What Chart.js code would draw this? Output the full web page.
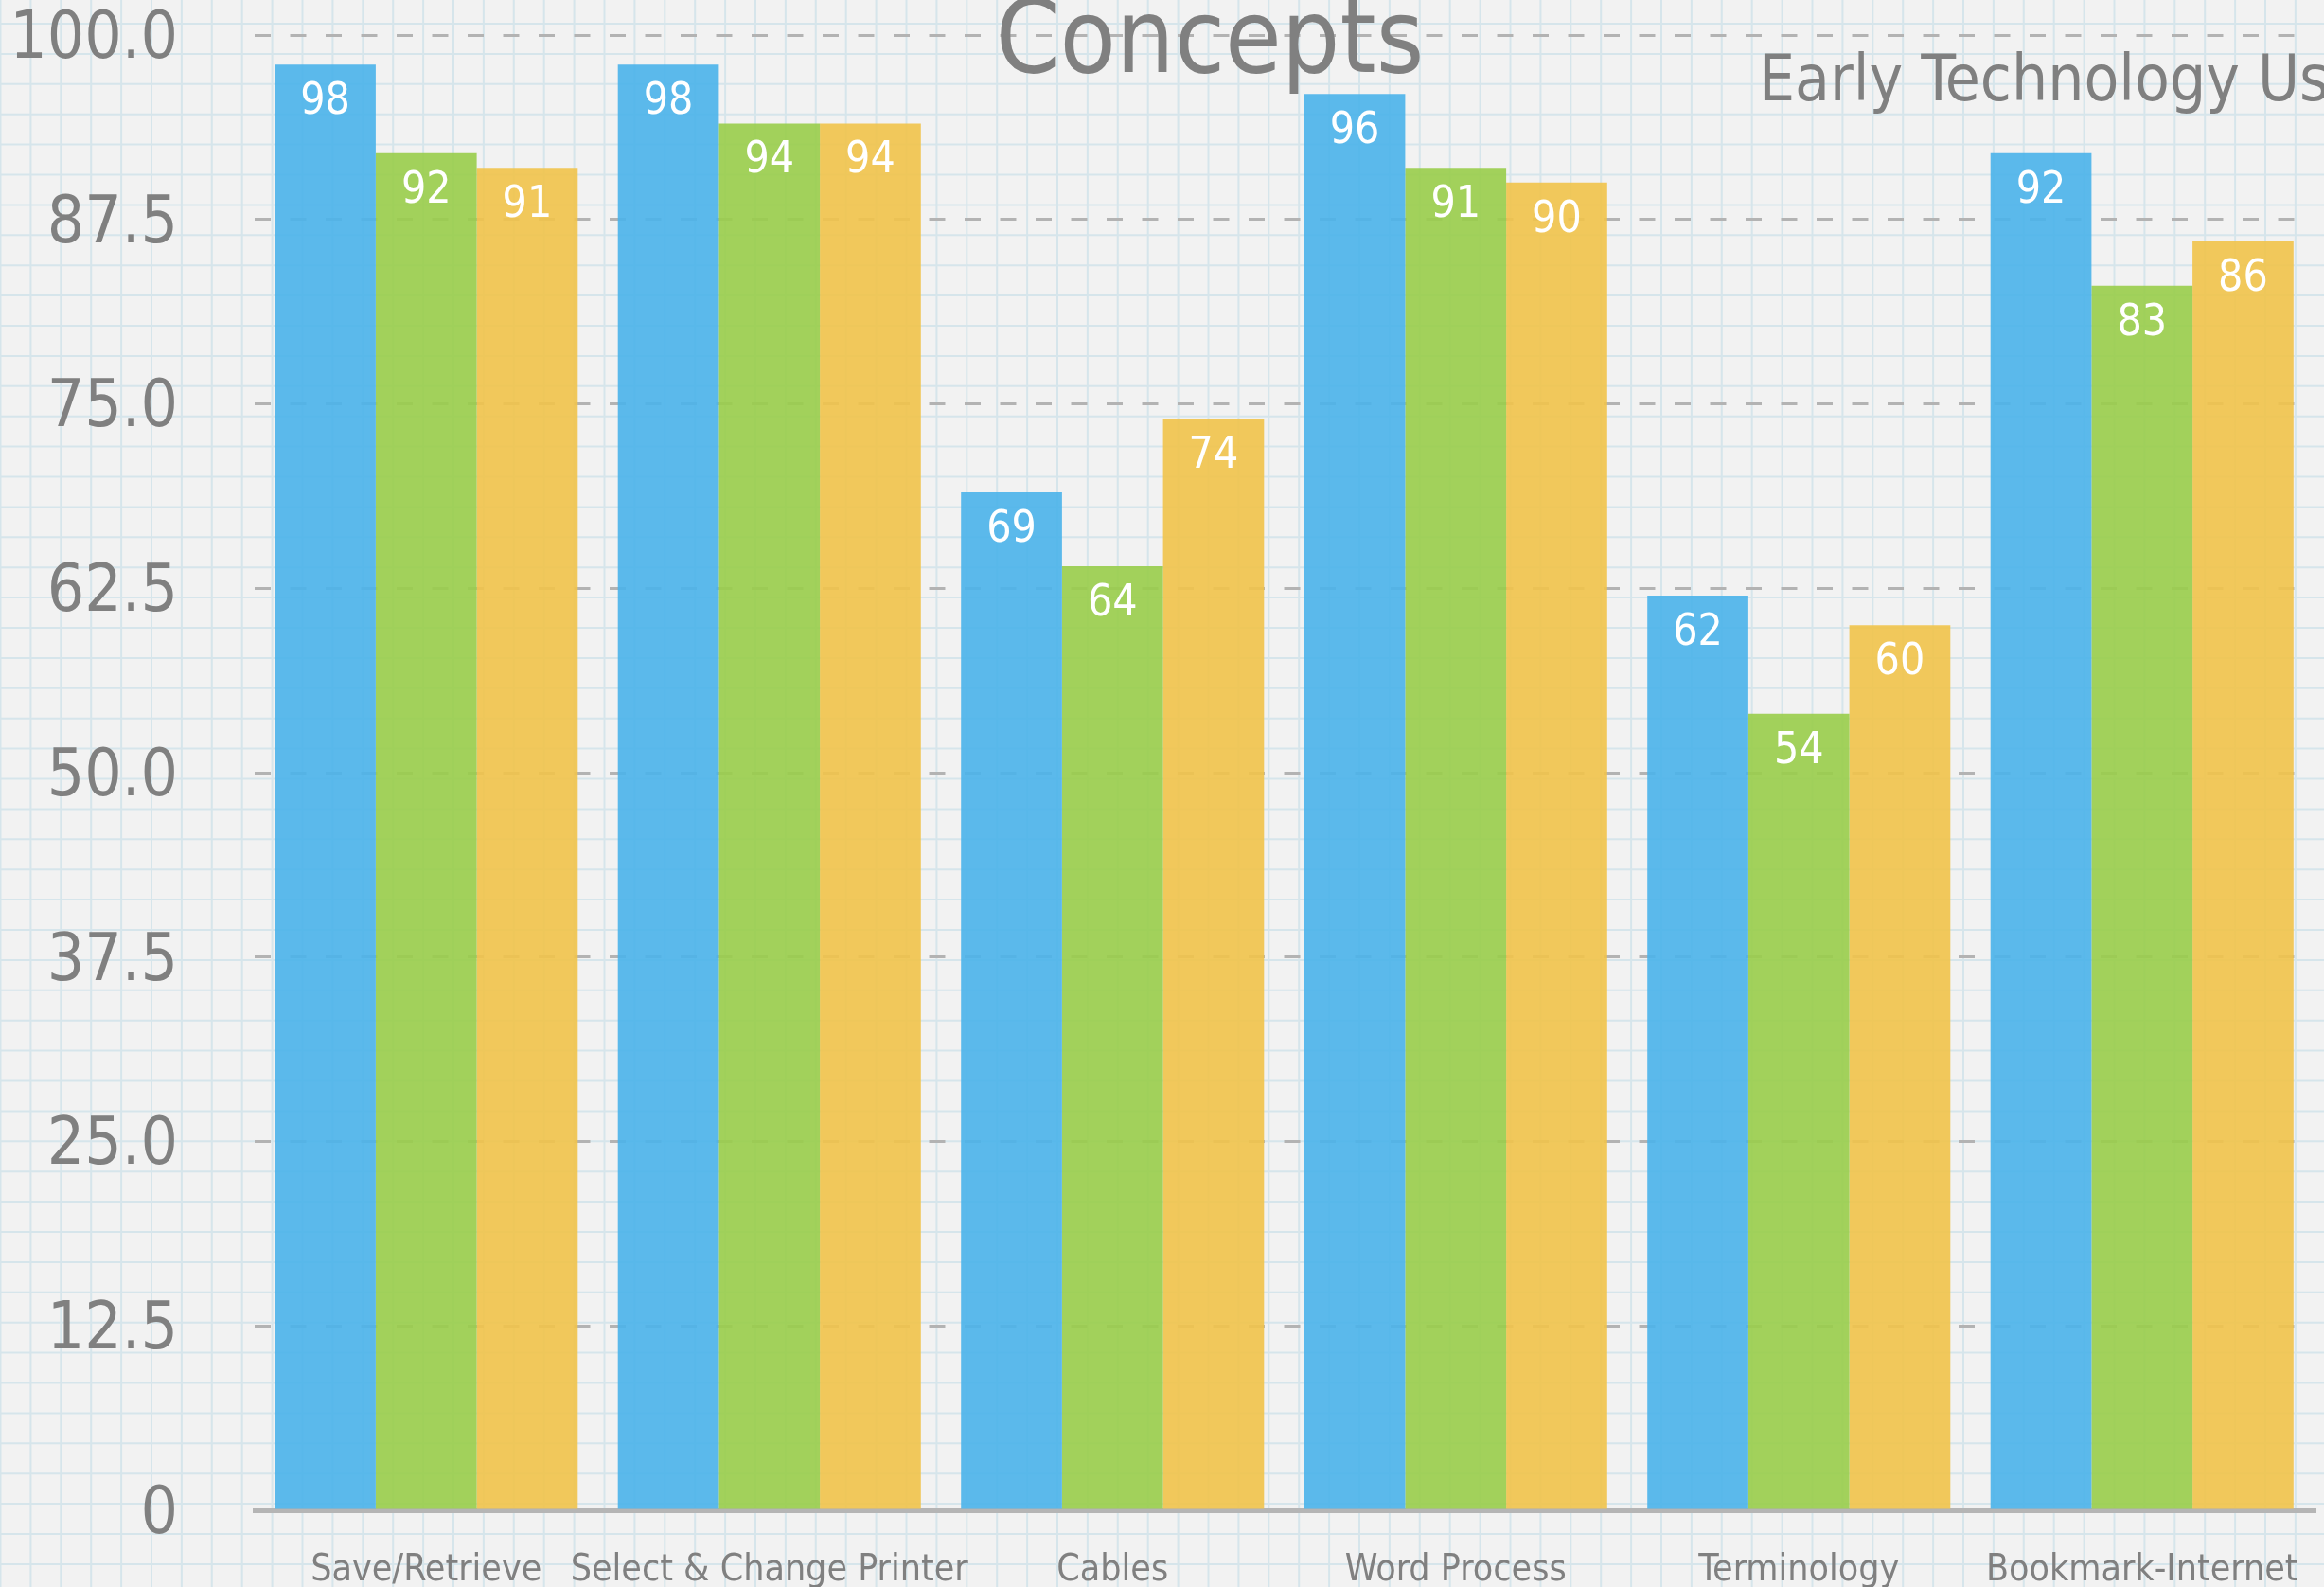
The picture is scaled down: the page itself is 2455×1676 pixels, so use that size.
<!DOCTYPE html>
<html lang="en">
  <head>
    <meta charset="UTF-8" />
    <title>Concepts</title>
    <script src="https://cdn.jsdelivr.net/npm/chart.js"></script>
    <style>
      html,
      body {
        margin: 0;
        padding: 0;
        background: #f2f2f2;
        overflow: hidden;
      }
      .chart-box {
        width: 2455px;
        height: 1676px;
        position: relative;
      }
    </style>
  </head>
  <body>
    <div class="chart-box">
      <canvas id="conceptsChart"></canvas>
    </div>

    <script>
      const categories = [
        "Save/Retrieve",
        "Select & Change Printer",
        "Cables",
        "Word Process",
        "Terminology",
        "Bookmark-Internet",
      ];
      const seriesBlue = [98, 98, 69, 96, 62, 92];
      const seriesGreen = [92, 94, 64, 91, 54, 83];
      const seriesYellow = [91, 94, 74, 90, 60, 86];
      const yTicks = [0, 12.5, 25, 37.5, 50, 62.5, 75, 87.5, 100];

      const FONT = '"DejaVu Sans Condensed", "DejaVu Sans", sans-serif';
      const GREY = "#808080";

      // graph paper behind everything
      const paperPlugin = {
        id: "paper",
        beforeDraw(chart) {
          const { ctx, width, height } = chart;
          ctx.save();
          ctx.fillStyle = "#f2f2f2";
          ctx.fillRect(0, 0, width, height);
          ctx.strokeStyle = "rgba(160, 205, 222, 0.34)";
          ctx.lineWidth = 2;
          const step = 31.9;
          ctx.beginPath();
          for (let x = 0.5; x < width; x += step) {
            ctx.moveTo(x, 0);
            ctx.lineTo(x, height);
          }
          for (let y = 25; y < height; y += step) {
            ctx.moveTo(0, y);
            ctx.lineTo(width, y);
          }
          ctx.stroke();
          ctx.restore();
        },
      };

      // value labels inside the top of each bar
      const valueLabels = {
        id: "valueLabels",
        afterDatasetsDraw(chart) {
          const { ctx } = chart;
          ctx.save();
          ctx.fillStyle = "#ffffff";
          ctx.font = `46px ${FONT}`;
          ctx.textAlign = "center";
          ctx.textBaseline = "middle";
          chart.data.datasets.forEach((ds, i) => {
            chart.getDatasetMeta(i).data.forEach((bar, j) => {
              ctx.fillText(String(ds.data[j]), bar.x, bar.y + 40);
            });
          });
          ctx.restore();
        },
      };

      // headings, partly cut off like the source
      const headings = {
        id: "headings",
        afterDraw(chart) {
          const { ctx } = chart;
          ctx.save();
          ctx.fillStyle = GREY;
          ctx.textBaseline = "alphabetic";
          ctx.font = `108px ${FONT}`;
          ctx.textAlign = "center";
          ctx.fillText("Concepts", 1278, 76);
          ctx.font = `67px ${FONT}`;
          ctx.textAlign = "left";
          ctx.fillText("Early Technology Use", 1858, 106);
          ctx.restore();
        },
      };

      const ctx = document.getElementById("conceptsChart").getContext("2d");
      new Chart(ctx, {
        type: "bar",
        data: {
          labels: categories,
          datasets: [
            {
              label: "Blue",
              data: seriesBlue,
              backgroundColor: "rgba(74, 178, 234, 0.9)",
            },
            {
              label: "Green",
              data: seriesGreen,
              backgroundColor: "rgba(153, 205, 74, 0.9)",
            },
            {
              label: "Yellow",
              data: seriesYellow,
              backgroundColor: "rgba(241, 195, 74, 0.9)",
            },
          ],
        },
        options: {
          responsive: true,
          maintainAspectRatio: false,
          animation: false,
          devicePixelRatio: 1,
          layout: { padding: { left: 0, top: 37, right: 11, bottom: 0 } },
          datasets: {
            bar: { categoryPercentage: 0.883, barPercentage: 1.0 },
          },
          plugins: {
            legend: { display: false },
            title: { display: false },
            tooltip: { enabled: false },
          },
          scales: {
            x: {
              grid: { display: false, lineWidth: 5 },
              border: { display: true, color: "#b5b5b5", width: 5 },
              ticks: {
                color: GREY,
                font: { family: FONT, size: 39 },
                padding: 32,
                maxRotation: 0,
                autoSkip: false,
              },
              afterFit: (scale) => {
                scale.height = 81;
                scale.paddingLeft = 0;
                scale.paddingRight = 0;
              },
            },
            y: {
              min: 0,
              max: 100,
              afterBuildTicks: (scale) => {
                scale.ticks = yTicks.map((v) => ({ value: v }));
              },
              grid: {
                color: "#b3b3b3",
                lineWidth: 3,
                drawTicks: false,
              },
              border: { display: false, dash: [17, 20.5] },
              ticks: {
                color: GREY,
                font: { family: FONT, size: 69 },
                padding: 81,
                labelOffset: 6,
                callback: (v) => (v === 0 ? "0" : Number(v).toFixed(1)),
              },
              afterFit: (scale) => {
                scale.width = 269;
                scale.paddingTop = 0;
                scale.paddingBottom = 0;
              },
            },
          },
        },
        plugins: [paperPlugin, valueLabels, headings],
      });
    </script>
  </body>
</html>
